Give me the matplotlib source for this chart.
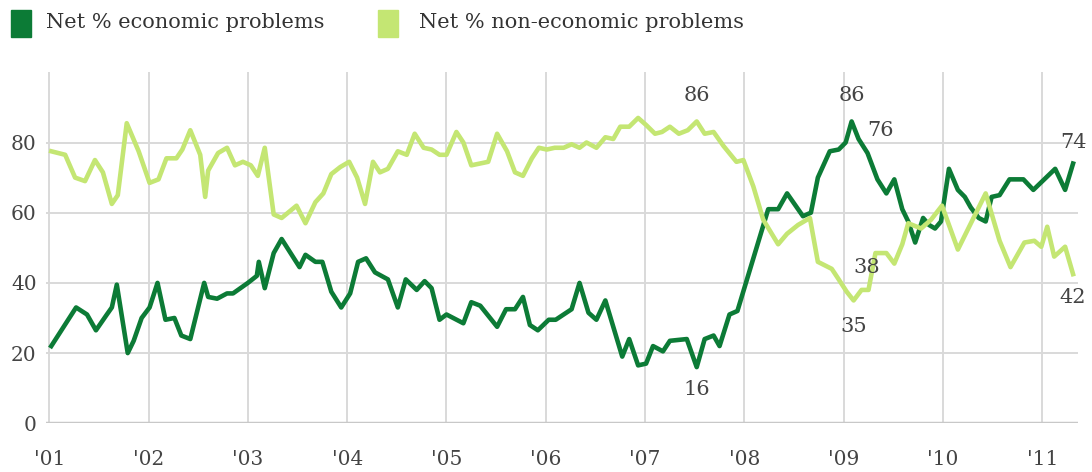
import matplotlib
matplotlib.use("Agg")
import matplotlib.pyplot as plt
from matplotlib.patches import Rectangle

# ---- data (x in decimal years) ----
econ_x = [2001.02, 2001.27, 2001.38, 2001.47, 2001.58, 2001.63, 2001.68, 2001.79, 2001.85, 2001.93,
          2002.01, 2002.09, 2002.17, 2002.26, 2002.33, 2002.42, 2002.56, 2002.60, 2002.69, 2002.79,
          2002.85, 2003.00, 2003.09, 2003.11, 2003.17, 2003.26, 2003.34, 2003.52, 2003.58, 2003.68,
          2003.75, 2003.84, 2003.94, 2004.03, 2004.11, 2004.19, 2004.28, 2004.41, 2004.51, 2004.59,
          2004.70, 2004.78, 2004.85, 2004.93, 2005.00, 2005.17, 2005.25, 2005.34, 2005.51, 2005.60,
          2005.69, 2005.77, 2005.84, 2005.92, 2006.03, 2006.10, 2006.26, 2006.34, 2006.43, 2006.51,
          2006.60, 2006.77, 2006.84, 2006.93, 2007.01, 2007.08, 2007.18, 2007.25, 2007.42, 2007.52,
          2007.60, 2007.69, 2007.75, 2007.85, 2007.93, 2008.24, 2008.34, 2008.43, 2008.59, 2008.67,
          2008.74, 2008.86, 2008.95, 2009.02, 2009.08, 2009.15, 2009.24, 2009.34, 2009.43, 2009.51,
          2009.59, 2009.65, 2009.72, 2009.80, 2009.86, 2009.92, 2009.98, 2010.06, 2010.15, 2010.22,
          2010.28, 2010.36, 2010.43, 2010.49, 2010.57, 2010.67, 2010.81, 2010.91, 2011.13, 2011.23,
          2011.31]
econ_y = [22, 33, 31, 26.5, 31, 33, 39.5, 20, 23.5, 30,
          33, 40, 29.5, 30, 25, 24, 40, 36, 35.5, 37,
          37, 40, 42, 46, 38.5, 48.5, 52.5, 44.5, 48, 46,
          46, 37.5, 33, 37, 46, 47, 43, 41, 33, 41,
          38, 40.5, 38.5, 29.5, 31, 28.5, 34.5, 33.5, 27.5, 32.5,
          32.5, 36, 28, 26.5, 29.5, 29.5, 32.5, 40, 31.5, 29.5,
          35, 19, 24, 16.5, 17, 22, 20.5, 23.5, 24, 16,
          24, 25, 22, 31, 32, 61, 61, 65.5, 59, 60,
          70, 77.5, 78, 80, 86, 81, 77, 69.5, 65.5, 69.5,
          61, 57.5, 51.5, 58.5, 56.5, 55.5, 57.5, 72.5, 66.5, 64.5,
          61.5, 58.5, 57.5, 64.5, 65, 69.5, 69.5, 66.5, 72.5, 66.5,
          74]

nonecon_x = [2001.02, 2001.16, 2001.26, 2001.36, 2001.46, 2001.54, 2001.63, 2001.69, 2001.78, 2001.90,
             2002.01, 2002.10, 2002.18, 2002.28, 2002.34, 2002.42, 2002.52, 2002.57, 2002.60, 2002.70,
             2002.79, 2002.87, 2002.95, 2003.03, 2003.10, 2003.17, 2003.26, 2003.34, 2003.49, 2003.58,
             2003.68, 2003.76, 2003.84, 2003.93, 2004.02, 2004.10, 2004.18, 2004.26, 2004.33, 2004.41,
             2004.51, 2004.60, 2004.68, 2004.77, 2004.85, 2004.93, 2005.00, 2005.10, 2005.17, 2005.25,
             2005.42, 2005.51, 2005.61, 2005.69, 2005.77, 2005.86, 2005.93, 2006.01, 2006.09, 2006.18,
             2006.26, 2006.34, 2006.41, 2006.51, 2006.60, 2006.68, 2006.75, 2006.84, 2006.93, 2007.01,
             2007.10, 2007.17, 2007.25, 2007.34, 2007.43, 2007.52, 2007.60, 2007.69, 2007.79, 2007.92,
             2007.99, 2008.09, 2008.19, 2008.34, 2008.43, 2008.54, 2008.66, 2008.74, 2008.88, 2008.95,
             2009.03, 2009.10, 2009.18, 2009.25, 2009.32, 2009.43, 2009.51, 2009.59, 2009.65, 2009.78,
             2009.88, 2009.99, 2010.15, 2010.43, 2010.57, 2010.68, 2010.82, 2010.92, 2010.99, 2011.05,
             2011.12, 2011.23, 2011.31]
nonecon_y = [77.5, 76.5, 70, 69, 75, 71.5, 62.5, 65, 85.5, 77.5,
             68.5, 69.5, 75.5, 75.5, 78, 83.5, 76.5, 64.5, 72, 77,
             78.5, 73.5, 74.5, 73.5, 70.5, 78.5, 59.5, 58.5, 62, 57,
             63, 65.5, 71, 73, 74.5, 70, 62.5, 74.5, 71.5, 72.5,
             77.5, 76.5, 82.5, 78.5, 78, 76.5, 76.5, 83, 80, 73.5,
             74.5, 82.5, 77.5, 71.5, 70.5, 75.5, 78.5, 78, 78.5, 78.5,
             79.5, 78.5, 80, 78.5, 81.5, 81, 84.5, 84.5, 87, 85,
             82.5, 83, 84.5, 82.5, 83.5, 86, 82.5, 83, 79, 74.5,
             75, 67.5, 58, 51, 54, 56.5, 58.5, 46, 44, 41,
             37.5, 35, 38, 38, 48.5, 48.5, 45.5, 51, 57, 55.5,
             58, 62, 49.5, 65.5, 52, 44.5, 51.5, 52, 50.3, 56,
             47.5, 50.3, 42.5]

year_ticks = [2001, 2002, 2003, 2004, 2005, 2006, 2007, 2008, 2009, 2010, 2011]
year_labels = ["'01", "'02", "'03", "'04", "'05", "'06", "'07", "'08", "'09", "'10", "'11"]
y_ticks = [0, 20, 40, 60, 80]

# labelled points
label_x = [2007.52, 2007.52, 2009.08, 2009.24, 2009.25, 2009.10, 2011.31, 2011.31]
label_y = [86, 16, 86, 77, 38, 35, 74, 42.5]
label_txt = ["86", "16", "86", "76", "38", "35", "74", "42"]

DARK = "#0c7b36"
LIGHT = "#c4e673"
GRID = "#d9d9d9"
TXT = "#444444"
SERIF = "DejaVu Serif"

fig = plt.figure(figsize=(10.92, 4.72), dpi=100)
ax = fig.add_axes([0.0424, 0.1032, 0.9448, 0.7436])
ax.set_xlim(2000.97, 2011.36)
ax.set_ylim(0, 100)

for s in ax.spines.values():
    s.set_visible(False)
ax.set_xticks(year_ticks)
ax.set_xticklabels(year_labels)
ax.set_yticks(y_ticks)
ax.tick_params(length=0, labelsize=14.5, labelcolor=TXT)
ax.tick_params(axis="x", pad=19)
ax.tick_params(axis="y", pad=7)
for lab in ax.get_xticklabels() + ax.get_yticklabels():
    lab.set_family(SERIF)
ax.grid(True, color=GRID, lw=1.4)
ax.axhline(0, color="#c8c8c8", lw=2.5, zorder=1)
ax.set_axisbelow(True)

ax.plot(econ_x, econ_y, color=DARK, lw=3.3, solid_joinstyle="round", zorder=3)
ax.plot(nonecon_x, nonecon_y, color=LIGHT, lw=3.3, solid_joinstyle="round", zorder=4)

offsets = [(0, 18.5), (0, -16), (0, 18.5), (9, 16), (-1, 16.5), (0, -18.5), (0, 15.5), (0, -16.5)]
for x, y, t, (dx, dy) in zip(label_x, label_y, label_txt, offsets):
    ax.annotate(t, (x, y), xytext=(dx, dy), textcoords="offset points",
                ha="center", va="center", fontsize=15, color=TXT, family=SERIF, zorder=5)

# legend
fig.add_artist(Rectangle((11 / 1092, 1 - 37 / 472), 20 / 1092, 27 / 472,
                         transform=fig.transFigure, color=DARK))
fig.text(46 / 1092, 1 - 23 / 472, "Net % economic problems", family=SERIF,
         fontsize=15, color="#333333", va="center", ha="left")
fig.add_artist(Rectangle((378 / 1092, 1 - 37 / 472), 20 / 1092, 27 / 472,
                         transform=fig.transFigure, color=LIGHT))
fig.text(419 / 1092, 1 - 23 / 472, "Net % non-economic problems", family=SERIF,
         fontsize=15, color="#333333", va="center", ha="left")

fig.savefig("out.png", dpi=100)
